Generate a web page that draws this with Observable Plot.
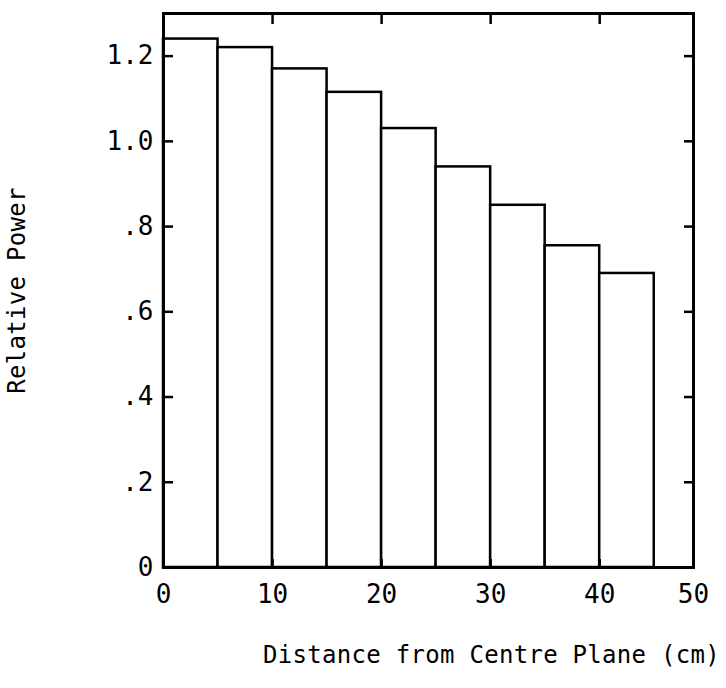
<!DOCTYPE html>
<html>
<head>
<meta charset="utf-8">
<script src="https://cdn.jsdelivr.net/npm/d3@7"></script>
<script src="https://cdn.jsdelivr.net/npm/@observablehq/plot@0.6"></script>
<style>
  body { margin: 0; background: #fff; }
  svg { font-family: "DejaVu Sans Mono", monospace; }
</style>
</head>
<body>
<div id="chart"></div>
<script>
const binStart = [0, 5, 10, 15, 20, 25, 30, 35, 40];
const binEnd   = [5, 10, 15, 20, 25, 30, 35, 40, 45];
const power    = [1.24, 1.22, 1.17, 1.115, 1.03, 0.94, 0.85, 0.755, 0.69];
const yTicks = [0, 0.2, 0.4, 0.6, 0.8, 1.0, 1.2];
const yTickLabels = ["0", ".2", ".4", ".6", ".8", "1.0", "1.2"];
const xTicks = [0, 10, 20, 30, 40, 48.6];
const xTickLabels = ["0", "10", "20", "30", "40", "50"];
const xTitle = "Distance from Centre Plane (cm)";
const yTitle = "Relative Power";

const bins = binStart.map((s, i) => ({x1: s, x2: binEnd[i], p: power[i]}));
const blank = () => "";

const chart = Plot.plot({
  width: 726,
  height: 688,
  marginTop: 13,
  marginLeft: 163,
  marginRight: 33,
  marginBottom: 121,
  x: {domain: [0, 48.6]},
  y: {domain: [0, 1.30]},
  style: {fontFamily: "DejaVu Sans Mono, monospace", color: "#000"},
  marks: [
    Plot.rect(bins, {x1: "x1", x2: "x2", y1: 0, y2: "p", fill: "white", stroke: "black", strokeWidth: 2.5}),
    Plot.frame({stroke: "black", strokeWidth: 3}),
    Plot.axisY({anchor: "left", ticks: yTicks, tickSize: 0, tickPadding: 10,
      tickFormat: d => yTickLabels[yTicks.indexOf(d)],
      label: yTitle, labelAnchor: "center", labelArrow: "none", labelOffset: 156}),
    Plot.axisY({anchor: "left", ticks: yTicks.slice(1), tickSize: -10, tickFormat: blank, label: null, strokeWidth: 2.5}),
    Plot.axisY({anchor: "right", ticks: yTicks.slice(1), tickSize: -10, tickFormat: blank, label: null, strokeWidth: 2.5}),
    Plot.axisX({anchor: "bottom", ticks: xTicks, tickSize: 0, tickPadding: 17,
      tickFormat: d => xTickLabels[xTicks.indexOf(d)], label: null}),
    Plot.axisX({anchor: "bottom", ticks: xTicks.slice(1, 5), tickSize: -8, tickFormat: blank, label: null, strokeWidth: 2.5}),
    Plot.axisX({anchor: "top", ticks: xTicks.slice(1, 5), tickSize: -10, tickFormat: blank, label: null, strokeWidth: 2.5}),
    Plot.text([xTitle], {text: d => d, frameAnchor: "bottom", dx: 63, dy: 95})
  ]
});
document.getElementById("chart").appendChild(chart);
chart.querySelectorAll("text").forEach(t => {
  const s = t.textContent;
  if (s === xTitle || s === yTitle) {
    t.style.fontSize = "24px";
    t.setAttribute("letter-spacing", "0.3");
  } else if (yTickLabels.includes(s) || xTickLabels.includes(s)) {
    t.style.fontSize = "26px";
  }
});
</script>
</body>
</html>
